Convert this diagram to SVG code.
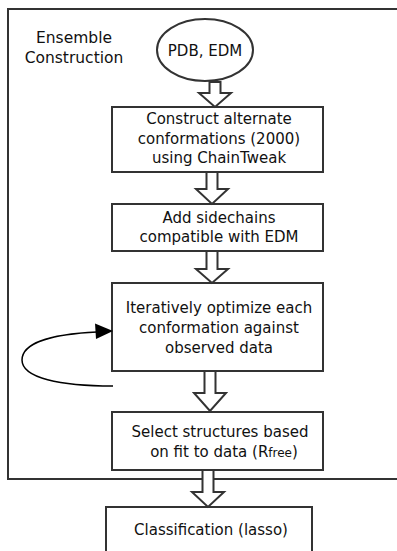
<svg xmlns="http://www.w3.org/2000/svg" width="397" height="551" viewBox="0 0 397 551">
<style>
  .frame { fill: none; stroke: #333; stroke-width: 2; }
  .box { fill: #fff; stroke: #333; stroke-width: 2; }
  .blk { fill: #fff; stroke: #333; stroke-width: 2; stroke-linejoin: miter; }
  text { font-family: "DejaVu Sans", "Liberation Sans", sans-serif; font-size: 15px; fill: #111; text-anchor: middle; }
  .loop { fill: none; stroke: #000; stroke-width: 1.5; }
</style>
<rect width="397" height="551" fill="#fff"/>
<g id="frame">
  <path class="frame" d="M397,9 H8 V479 H397"/>
  <text x="74" y="43" style="font-size:15.5px">Ensemble</text>
  <text x="74" y="63" style="font-size:15.5px">Construction</text>
</g>
<g id="n_pdb">
  <ellipse class="box" cx="205" cy="50" rx="48" ry="31"/>
  <text x="205" y="56">PDB, EDM</text>
</g>
<g id="n_construct">
  <rect class="box" x="112" y="107" width="211" height="65"/>
  <text x="219" y="124">Construct alternate</text>
  <text x="219" y="143.5">conformations (2000)</text>
  <text x="219" y="163">using ChainTweak</text>
</g>
<g id="n_sidechains">
  <rect class="box" x="112" y="204" width="211" height="47"/>
  <text x="219" y="223">Add sidechains</text>
  <text x="219" y="242">compatible with EDM</text>
</g>
<g id="n_optimize">
  <rect class="box" x="112" y="283" width="211" height="88"/>
  <text x="219" y="313">Iteratively optimize each</text>
  <text x="219" y="333">conformation against</text>
  <text x="219" y="353">observed data</text>
</g>
<g id="n_select">
  <rect class="box" x="112" y="412" width="211" height="58"/>
  <text x="220" y="436.5">Select structures based</text>
  <text x="224" y="457">on fit to data (R<tspan style="font-size:12px">free</tspan>)</text>
</g>
<g id="n_classify">
  <rect class="box" x="106" y="507" width="206" height="60"/>
  <text x="211" y="535">Classification (lasso)</text>
</g>
<g id="connectors">
  <polygon class="blk" points="209.5,82 220.5,82 220.5,93 231,93 215,107 199,93 209.5,93"/>
  <polygon class="blk" points="206.5,172 217.5,172 217.5,189 228,189 212,204 196,189 206.5,189"/>
  <polygon class="blk" points="206.5,251 217.5,251 217.5,269 228,269 212,283 196,269 206.5,269"/>
  <polygon class="blk" points="204.5,371 215.5,371 215.5,393 226,393 210,411 194,393 204.5,393"/>
  <polygon class="blk" points="202.5,470 213.5,470 213.5,492 224,492 208,507 192,492 202.5,492"/>
  <path class="loop" d="M113,386 C60,386 22,378 22,360 C22,342 55,334 97,332"/>
  <polygon points="113,331 95,323.5 96,339" fill="#000"/>
</g>
</svg>
